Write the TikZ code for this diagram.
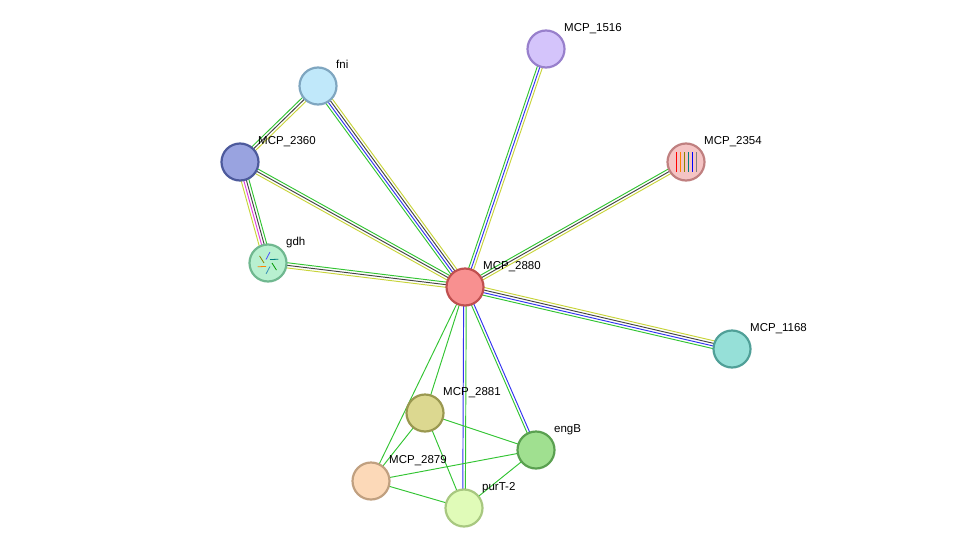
\documentclass[tikz,border=0pt]{standalone}
\usepackage{fontspec}
\setmainfont{Liberation Sans}
\usetikzlibrary{calc}
\definecolor{ey}{HTML}{C8D43A}
\definecolor{eg}{HTML}{33C433}
\definecolor{eb}{HTML}{3333F0}
\definecolor{ek}{HTML}{444444}
\definecolor{em}{HTML}{E040E0}
\newcommand{\sedge}[3]{%
  \foreach \o/\c in {#3}{%
    \draw[line width=0.95pt,\c] ($(#1)!\o!90:(#2)$) -- ($(#2)!\o!-90:(#1)$);}}
\newcommand{\pnode}[6]{% name, x, y, fill, border, label
  \definecolor{f#1}{HTML}{#4}\definecolor{b#1}{HTML}{#5}%
  \node[prot,fill=f#1,draw=b#1] (n#1) at (#2,#3) {};
  \node[lab,anchor=base west] (l#1) at (#2+18,#3-18) {#6};}
\begin{document}
\begin{tikzpicture}[x=1pt,y=-1pt,
  prot/.style={circle,minimum size=37pt,inner sep=0pt,line width=2.2pt},
  lab/.style={font=\fontsize{11.5pt}{12pt}\selectfont,inner sep=0pt}]
\useasboundingbox (0,0) rectangle (976,554);
\coordinate (c2880) at (465,287);
\coordinate (cfni) at (318,86);
\coordinate (c1516) at (546,49);
\coordinate (c2354) at (686,162);
\coordinate (c2360) at (240,162);
\coordinate (cgdh) at (268,263);
\coordinate (c1168) at (732,349);
\coordinate (c2881) at (425,413);
\coordinate (cengB) at (536,450);
\coordinate (c2879) at (371,481);
\coordinate (cpurT) at (464,508);
\sedge{cfni}{c2880}{-3.9pt/eg,-1.3pt/eb,1.3pt/ek,3.9pt/ey}
\sedge{c2360}{cfni}{-2.6pt/ey,0pt/ek,2.6pt/eg}
\sedge{c2360}{c2880}{-2.6pt/ey,0pt/ek,2.6pt/eg}
\sedge{c2360}{cgdh}{-3.9pt/ey,-1.3pt/em,1.3pt/ek,3.9pt/eg}
\sedge{cgdh}{c2880}{-2.6pt/ey,0pt/ek,2.6pt/eg}
\sedge{c1516}{c2880}{-2.6pt/eg,0pt/eb,2.6pt/ey}
\sedge{c2354}{c2880}{-2.6pt/eg,0pt/ek,2.6pt/ey}
\sedge{c1168}{c2880}{-3.9pt/ey,-1.3pt/ek,1.3pt/eb,3.9pt/eg}
\sedge{c2880}{cpurT}{-1.3pt/eb,1.3pt/eg}
\sedge{c2880}{cengB}{-1.3pt/eg,1.3pt/eb}
\sedge{c2880}{c2881}{0pt/eg}
\sedge{c2880}{c2879}{0pt/eg}
\sedge{c2881}{cengB}{0pt/eg}
\sedge{c2881}{c2879}{0pt/eg}
\sedge{c2881}{cpurT}{0pt/eg}
\sedge{c2879}{cengB}{0pt/eg}
\sedge{c2879}{cpurT}{0pt/eg}
\sedge{cengB}{cpurT}{0pt/eg}
\pnode{2880}{465}{287}{F89090}{C05050}{MCP\_2880}
\pnode{fni}{318}{86}{C0E8FA}{7FA6C0}{fni}
\pnode{1516}{546}{49}{D4C4FB}{9880CC}{MCP\_1516}
\pnode{2354}{686}{162}{F5C4C4}{C08080}{MCP\_2354}
\pnode{2360}{240}{162}{99A3E0}{4D5A9C}{MCP\_2360}
\pnode{gdh}{268}{263}{B8F0D0}{70B890}{gdh}
\pnode{1168}{732}{349}{96E0D8}{50A098}{MCP\_1168}
\pnode{2881}{425}{413}{DCD890}{9A9850}{MCP\_2881}
\pnode{engB}{536}{450}{A0E090}{5AA050}{engB}
\pnode{2879}{371}{481}{FCD9B8}{C0A080}{MCP\_2879}
\pnode{purT}{464}{508}{E0FBB8}{A8C880}{purT-2}
% structure thumbnails
\foreach \dx/\c in {-10/red,-6/orange,-2/olive,2/teal,6/blue,10/gray}
  \draw[\c,line width=0.8pt] ($(n2354)+(\dx,-10)$) -- ($(n2354)+(\dx,10)$);
\foreach \a/\c in {0/green!60!black,60/cyan!70!black,120/orange,180/olive,240/blue!70,300/teal}
  \draw[\c,line width=0.8pt] ($(ngdh)+(\a:4)$) -- ($(ngdh)+(\a+40:11)$);
\end{tikzpicture}
\end{document}
